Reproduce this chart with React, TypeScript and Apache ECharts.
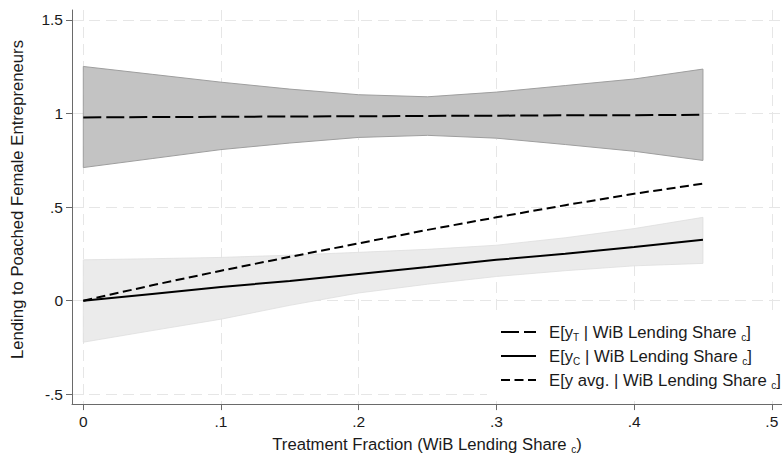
import React, { useEffect, useRef } from "react";
import * as echarts from "echarts";

// Treatment fraction (x) grid
const xs = [0, 0.05, 0.1, 0.15, 0.2, 0.25, 0.3, 0.35, 0.4, 0.45];
// E[yT | share]
const treatMean = [0.979, 0.981, 0.982, 0.984, 0.985, 0.987, 0.988, 0.99, 0.991, 0.993];
const treatLo = [0.711, 0.759, 0.807, 0.842, 0.872, 0.883, 0.868, 0.834, 0.798, 0.749];
const treatHi = [1.251, 1.209, 1.167, 1.13, 1.1, 1.089, 1.114, 1.149, 1.184, 1.237];
// E[yC | share]
const ctrlMean = [0, 0.036, 0.073, 0.105, 0.143, 0.18, 0.218, 0.25, 0.287, 0.325];
const ctrlLo = [-0.222, -0.16, -0.099, -0.025, 0.041, 0.088, 0.129, 0.16, 0.186, 0.199];
const ctrlHi = [0.218, 0.224, 0.231, 0.243, 0.258, 0.274, 0.296, 0.336, 0.385, 0.445];
// E[y avg. | share]
const avgMean = [0, 0.082, 0.16, 0.234, 0.306, 0.378, 0.445, 0.51, 0.571, 0.625];

const xTicks = [0, 0.1, 0.2, 0.3, 0.4, 0.5];
const yTicks = [-0.5, 0, 0.5, 1, 1.5];

const nameT = "E[yT | WiB Lending Share c]";
const nameC = "E[yC | WiB Lending Share c]";
const nameA = "E[y avg. | WiB Lending Share c]";
const legendRich: Record<string, string> = {
  [nameT]: "{m|E[y}{s|T}{n| | WiB Lending Share }{s|c}{n|]}",
  [nameC]: "{m|E[y}{s|C}{n| | WiB Lending Share }{s|c}{n|]}",
  [nameA]: "{m|E[y avg. | WiB Lending Share }{s|c}{n|]}",
};

const FONT = "'Liberation Sans', Arial, Helvetica, sans-serif";

function fmt(v: number): string {
  if (v === 0) return "0";
  const s = String(Math.abs(v)).replace(/^0/, "");
  return (v < 0 ? "-" : "") + s;
}

const pairs = (ys: number[]) => xs.map((x, i) => [x, ys[i]]);

function bandSeries(id: string, lo: number[], hi: number[], fill: string, edge: string, w: number) {
  return {
    name: id,
    type: "custom",
    silent: true,
    z: 2,
    data: xs.map((x, i) => [x, lo[i], hi[i]]),
    encode: { x: 0, y: [1, 2] },
    renderItem: (params: any, api: any) => {
      if (params.dataIndex !== 0) return null;
      const top = xs.map((x, i) => api.coord([x, hi[i]]));
      const bot = xs.map((x, i) => api.coord([x, lo[i]])).reverse();
      return {
        type: "polygon",
        shape: { points: top.concat(bot) },
        style: { fill, stroke: edge, lineWidth: w },
      };
    },
  };
}

export default function App() {
  const ref = useRef<HTMLDivElement>(null);
  useEffect(() => {
    if (!ref.current) return;
    const chart = echarts.init(ref.current, undefined, { renderer: "svg" });
    const axisColor = "#6a6a6a";
    const textColor = "#1a1a1a";
    chart.setOption({
      animation: false,
      backgroundColor: "#ffffff",
      textStyle: { fontFamily: FONT },
      grid: { left: 72, right: 0, top: 10, bottom: 49, containLabel: false },
      xAxis: {
        type: "value",
        min: -0.0082,
        max: 0.5074,
        name: "Treatment Fraction (WiB Lending Share {s|c})",
        nameLocation: "middle",
        nameGap: 29,
        nameTextStyle: {
          fontSize: 16.7,
          color: textColor,
          fontFamily: FONT,
          lineHeight: 20,
          rich: {
            s: { fontSize: 10, lineHeight: 14, verticalAlign: "bottom", color: textColor, fontFamily: FONT },
          },
        },
        axisLine: { show: true, onZero: false, lineStyle: { color: axisColor, width: 1 } },
        axisTick: { show: true, inside: false, length: 6, customValues: xTicks, lineStyle: { color: axisColor } },
        axisLabel: {
          customValues: xTicks,
          formatter: (v: number) => fmt(v),
          fontSize: 15.5,
          color: textColor,
          margin: 9,
          fontFamily: FONT,
        },
        splitLine: { show: true, lineStyle: { color: "#e6e6e6", width: 1, type: [11, 6] } },
      },
      yAxis: {
        type: "value",
        min: -0.5526,
        max: 1.5526,
        name: "Lending to Poached Female Entrepreneurs",
        nameLocation: "middle",
        nameRotate: 90,
        nameGap: 46,
        nameTextStyle: { fontSize: 16.7, color: textColor, fontFamily: FONT, padding: [0, 0, 0, 15] },
        axisLine: { show: true, onZero: false, lineStyle: { color: axisColor, width: 1 } },
        axisTick: { show: true, inside: false, length: 6, customValues: yTicks, lineStyle: { color: axisColor } },
        axisLabel: {
          customValues: yTicks,
          formatter: (v: number) => fmt(v),
          fontSize: 15.5,
          color: textColor,
          margin: 9,
          fontFamily: FONT,
        },
        splitLine: { show: true, lineStyle: { color: "#e6e6e6", width: 1, type: [11, 6] } },
      },
      legend: {
        data: [nameT, nameC, nameA],
        orient: "vertical",
        left: 487,
        top: 314,
        padding: [8, 4, 6, 13],
        itemGap: 4,
        itemWidth: 35,
        itemHeight: 14,
        backgroundColor: "#ffffff",
        selectedMode: false,
        itemStyle: { color: "rgba(0,0,0,0)", opacity: 0, borderWidth: 0 },
        formatter: (n: string) => legendRich[n] || n,
        textStyle: {
          fontSize: 16.7,
          color: textColor,
          fontFamily: FONT,
          lineHeight: 20,
          rich: {
            m: { fontSize: 16.7, lineHeight: 20, color: textColor, fontFamily: FONT, padding: [0, 0, 0, 8] },
            n: { fontSize: 16.7, lineHeight: 20, color: textColor, fontFamily: FONT },
            s: { fontSize: 10, lineHeight: 14, verticalAlign: "bottom", color: textColor, fontFamily: FONT },
          },
        },
      },
      series: [
        bandSeries("treatBand", treatLo, treatHi, "#c3c3c3", "#9e9e9e", 1),
        bandSeries("ctrlBand", ctrlLo, ctrlHi, "#ebebeb", "#dedede", 0.8),
        {
          name: nameT,
          type: "line",
          data: pairs(treatMean),
          symbol: "none",
          lineStyle: { color: "#000", width: 2, type: [18, 5] },
          itemStyle: { color: "#000" },
          z: 5,
        },
        {
          name: nameC,
          type: "line",
          data: pairs(ctrlMean),
          symbol: "none",
          lineStyle: { color: "#000", width: 2, type: "solid" },
          itemStyle: { color: "#000" },
          z: 5,
        },
        {
          name: nameA,
          type: "line",
          data: pairs(avgMean),
          symbol: "none",
          lineStyle: { color: "#000", width: 2, type: [9, 4.5] },
          itemStyle: { color: "#000" },
          z: 5,
        },
      ],
    });
    return () => chart.dispose();
  }, []);
  return (
    <div
      ref={ref}
      style={{ position: "absolute", left: 0, top: 0, width: 782, height: 459, background: "#fff" }}
    />
  );
}
